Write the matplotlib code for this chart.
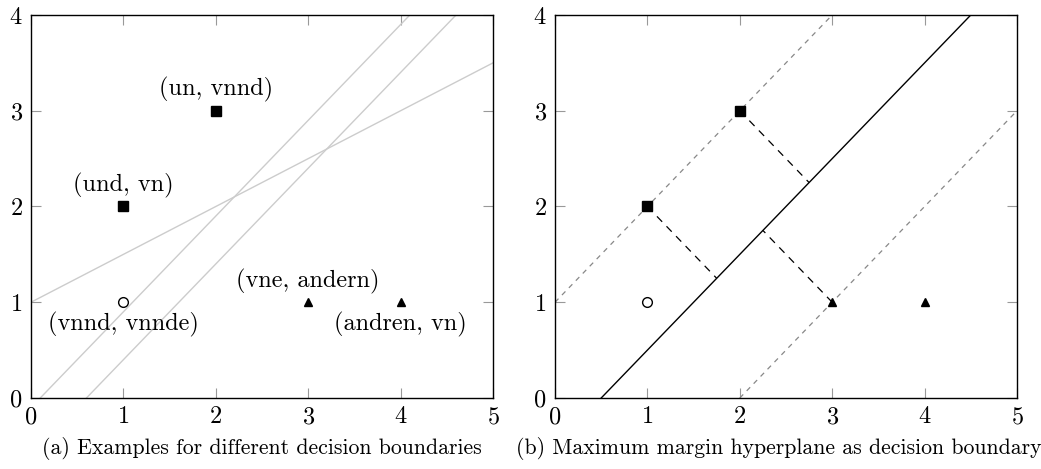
import numpy as np
import matplotlib
matplotlib.use('Agg')
from matplotlib import pyplot as plt

plt.rcParams['font.family'] = ['cmr10', 'DejaVu Serif']
plt.rcParams['mathtext.fontset'] = 'cm'
plt.rcParams['axes.formatter.use_mathtext'] = True

# data points
square_x = [1, 2]
square_y = [2, 3]
circle_x = [1]
circle_y = [1]
tri_x = [3, 4]
tri_y = [1, 1]

labels = ['(und, vn)', '(un, vnnd)', '(vnnd, vnnde)', '(vne, andern)', '(andren, vn)']
label_x = [1, 2, 1, 3, 4]
label_y = [2, 3, 1, 1, 1]
label_above = [True, True, False, True, False]

# candidate boundaries (a): slope, intercept
cand_slope = [0.5, 1.0, 1.0]
cand_icept = [1.0, -0.1, -0.6]

# max margin (b)
mm_slope = 1.0
mm_icept = -0.5
margin_icept = [1.0, -2.0]
support_x = [1, 2, 3]
support_y = [2, 3, 1]

xticks = [0, 1, 2, 3, 4, 5]
yticks = [0, 1, 2, 3, 4]

fig = plt.figure(figsize=(10.41, 4.69), dpi=100)
ax1 = fig.add_axes([31/1041, 71/469, 462/1041, 383/469])
ax2 = fig.add_axes([555/1041, 71/469, 462/1041, 383/469])


def style(ax):
    ax.set_xlim(0, 5)
    ax.set_ylim(0, 4)
    ax.set_xticks(xticks)
    ax.set_yticks(yticks)
    ax.tick_params(direction='in', length=7, width=0.8, color='#999999',
                   top=True, right=True, labelsize=17.5, pad=6)
    for s in ax.spines.values():
        s.set_linewidth(1.0)
        s.set_color('black')


def points(ax):
    ax.plot(square_x, square_y, 's', color='black', ms=7, zorder=5)
    ax.plot(circle_x, circle_y, 'o', mfc='white', mec='black', ms=7, mew=1, zorder=5)
    ax.plot(tri_x, tri_y, '^', color='black', ms=6, zorder=5)


xs = np.array([0, 5])
for m, b in zip(cand_slope, cand_icept):
    ax1.plot(xs, m * xs + b, color='#cccccc', lw=1)
points(ax1)
for t, x, y, up in zip(labels, label_x, label_y, label_above):
    ax1.annotate(t, (x, y), xytext=(0, 6 if up else -7), textcoords='offset points',
                 ha='center', va='bottom' if up else 'top', fontsize=17.5)
style(ax1)

ax2.plot(xs, mm_slope * xs + mm_icept, color='black', lw=1)
for b in margin_icept:
    ax2.plot(xs, mm_slope * xs + b, color='#888888', lw=0.9, dashes=(4, 4))
for x, y in zip(support_x, support_y):
    fx = (x + y - mm_icept) / 2
    fy = fx + mm_icept
    ax2.plot([x, fx], [y, fy], color='black', lw=0.9, dashes=(6, 5))
points(ax2)
style(ax2)

fig.text((31 + 493) / 2 / 1041, 21 / 469, '(a) Examples for different decision boundaries',
         ha='center', va='center', fontsize=15.7)
fig.text((555 + 1017) / 2 / 1041 - 7 / 1041, 21 / 469,
         '(b) Maximum margin hyperplane as decision boundary',
         ha='center', va='center', fontsize=15.7)

fig.savefig('out.png', dpi=100)
